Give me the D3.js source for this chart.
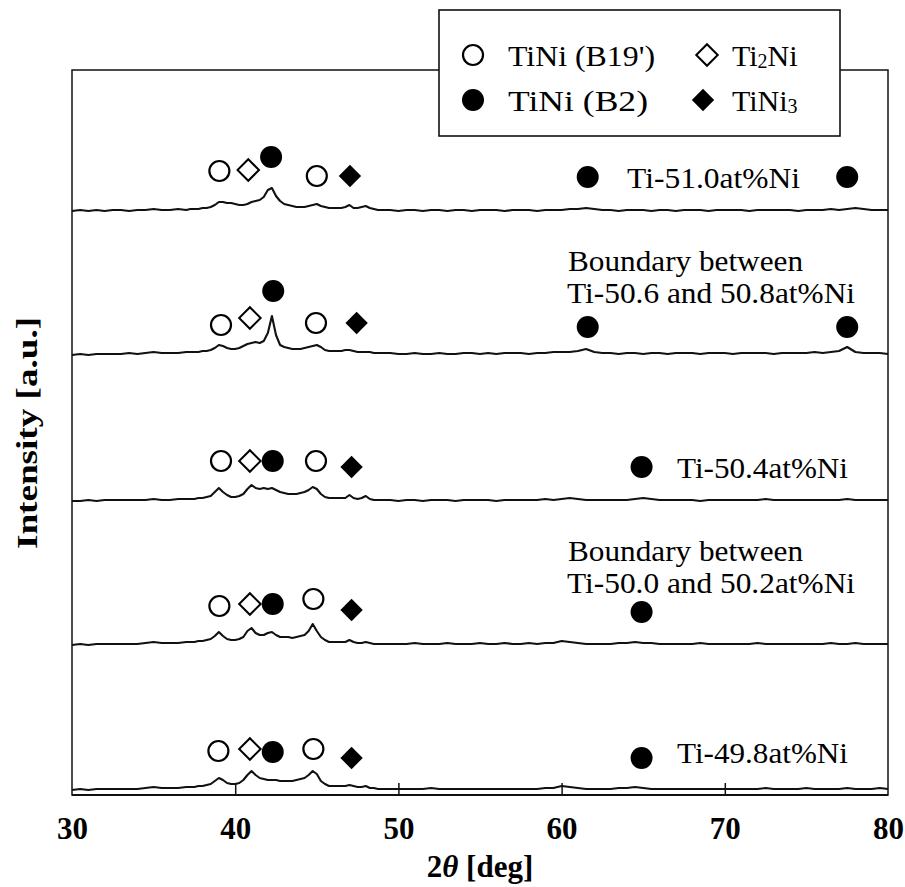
<!DOCTYPE html>
<html><head><meta charset="utf-8">
<script src="https://cdn.jsdelivr.net/npm/d3@7"></script>
<style>body{margin:0;background:#fff}svg{display:block}</style>
</head><body>
<svg id="c" width="905" height="887"></svg>
<script>
// ---- data ----
const xTicks = [30, 40, 50, 60, 70, 80];
const twoTheta = [30,30.5,31,31.5,32,32.5,33,33.5,34,34.5,35,35.5,36,36.5,37,
37.25,37.5,37.75,38,38.25,38.5,38.75,39,39.25,39.5,39.75,40,40.25,40.5,40.75,41,
41.25,41.5,41.75,42,42.25,42.5,42.75,43,43.25,43.5,43.75,44,44.25,44.5,44.75,45,
45.25,45.5,45.75,46,46.25,46.5,46.75,47,47.25,47.5,47.75,48,48.25,48.5,48.75,49,
49.5,50,50.5,51,51.5,52,52.5,53,53.5,54,54.5,55,
55.5,56,56.5,57,57.5,58,58.5,59,59.5,60,60.5,61,
61.5,62,62.5,63,63.5,64,64.5,65,65.5,66,66.5,67,
67.5,68,68.5,69,69.5,70,70.5,71,71.5,72,72.5,73,
73.5,74,74.5,75,75.5,76,76.5,77,77.5,78,78.5,79,79.5,80];

const sampleNames = ["Ti-51.0at%Ni", "Boundary 50.6/50.8", "Ti-50.4at%Ni", "Boundary 50.0/50.2", "Ti-49.8at%Ni"];
const offsets = [584, 440, 294, 150, 5];

const int510 = [0,1,0,1,0,1,1,0,1,1,2,1,1,2,1,
 2,2,2,3, 3,4,6,9, 9,8,8,7, 6,6,7,9, 10,11,14,21, 23,15,10,7, 6,5,4,4, 4,5,6,7, 5,4,3,3, 3,3,4,6, 3,3,4,5, 3,2,1,1,
 1,0,1,1,0,1,1,0,1,1,0,1,
 1,1,0,1,1,1,0,1,1,1,2,2,
 3,2,1,1,0,1,1,1,0,1,1,0,
 1,1,1,0,1,1,1,1,0,1,1,1,
 1,1,0,1,1,1,2,1,2,3,2,1,1,1];
const int5068 = [0,1,0,1,1,1,1,2,1,2,3,2,2,2,3,
 3,3,3,4, 4,5,7,10, 9,7,6,6, 7,9,11,12, 13,12,14,22, 39,20,10,8, 7,6,6,6, 7,8,9,10, 8,5,4,4, 4,4,5,5, 4,3,3,3, 3,2,2,2,
 2,1,1,2,1,1,2,1,1,2,2,1,
 2,1,2,2,2,1,2,2,3,3,3,4,
 6,3,2,2,1,2,2,1,2,2,1,2,
 2,2,1,2,2,2,1,2,2,2,2,1,
 2,2,2,2,3,2,3,4,8,3,2,2,2,1];
const int504 = [0,0,1,0,1,1,1,1,1,1,2,1,1,2,2,
 2,2,3,3, 4,5,9,13, 9,6,4,4, 5,7,12,16, 13,12,13,12, 13,11,9,8, 7,7,7,8, 9,11,14,12, 7,4,3,3, 3,3,3,6, 3,2,3,5, 2,1,1,1,
 1,0,1,1,0,1,1,1,0,1,1,1,
 1,0,1,1,1,1,1,2,1,2,3,2,
 1,1,1,1,1,1,2,3,2,1,1,1,
 1,1,0,1,1,1,1,1,1,1,2,1,
 1,1,1,1,1,1,1,1,2,1,1,1,1,1];
const int5002 = [0,1,0,1,1,1,1,1,1,2,3,2,2,2,3,
 3,3,4,4, 5,6,9,13, 9,6,5,5, 6,8,14,17, 12,10,10,12, 13,10,8,8, 8,7,8,9, 10,14,21,14, 8,5,3,3, 3,3,3,5, 3,2,2,3, 2,1,1,1,
 1,1,1,2,1,1,1,2,1,1,1,2,
 1,1,2,1,1,2,1,2,2,4,3,2,
 1,1,1,1,2,2,3,2,2,1,1,1,
 1,1,2,1,1,1,1,1,1,2,1,1,
 1,1,1,1,1,1,2,1,1,2,1,1,1,1];
const int498 = [0,1,0,1,1,1,1,1,1,2,3,2,2,2,3,
 3,3,4,4, 5,6,9,12, 10,7,6,6, 7,10,15,19, 15,12,11,10, 10,10,9,9, 9,9,10,11, 12,15,19,16, 9,6,4,4, 4,4,4,5, 4,3,3,4, 2,2,1,1,
 1,1,1,1,1,2,1,1,1,1,1,1,
 1,1,1,1,1,1,1,2,2,4,3,2,
 1,1,1,1,2,2,3,2,1,1,1,1,
 1,1,1,1,1,1,1,1,1,1,2,1,
 1,1,1,2,1,1,1,1,2,1,1,1,2,1];
const intensities = [int510, int5068, int504, int5002, int498];

// phase markers: [phase, 2theta, intensity(a.u., absolute)]
const phases = ["TiNi (B19')", "Ti2Ni", "TiNi (B2)", "TiNi3"];
const mark510  = [["B19",39.03,624],["Ti2Ni",40.8,625],["B2",42.2,638],["B19",45.0,619],["TiNi3",47.03,619],["B2",61.6,618],["B2",77.5,618]];
const mark5068 = [["B19",39.13,470],["Ti2Ni",40.9,477],["B2",42.33,504],["B19",44.95,472],["TiNi3",47.44,472],["B2",61.6,468],["B2",77.5,468]];
const mark504  = [["B19",39.13,334],["Ti2Ni",40.9,334],["B2",42.3,334],["B19",44.95,334],["TiNi3",47.13,328],["B2",64.9,328]];
const mark5002 = [["B19",39.03,189],["Ti2Ni",40.9,191],["B2",42.3,191],["B19",44.79,196],["TiNi3",47.13,185],["B2",64.9,183]];
const mark498  = [["B19",38.97,44],["Ti2Ni",40.9,46],["B2",42.3,43],["B19",44.79,46],["TiNi3",47.13,37],["B2",64.9,37]];
const markers = [mark510, mark5068, mark504, mark5002, mark498];

// ---- drawing ----
const svg = d3.select("#c");
const font = "'Liberation Serif','Times New Roman',serif";
const L = 72, R = 888, T = 70, B = 795;
const x = d3.scaleLinear().domain([30, 80]).range([L, R]);
const y = d3.scaleLinear().domain([0, 725]).range([B, T]);

// frame
svg.append("rect").attr("x", L).attr("y", T).attr("width", R - L).attr("height", B - T)
  .attr("fill", "none").attr("stroke", "#111").attr("stroke-width", 1.5);
svg.append("line").attr("x1", L).attr("x2", R).attr("y1", B).attr("y2", B)
  .attr("stroke", "#111").attr("stroke-width", 2.2);

// x axis (ticks inward)
const xAxis = d3.axisBottom(x).tickValues(xTicks).tickSize(-12).tickFormat(d3.format("d"));
const gx = svg.append("g").attr("transform", `translate(0,${B})`).call(xAxis);
gx.select(".domain").remove();
gx.selectAll(".tick line").attr("stroke", "#111").attr("stroke-width", 1.5)
  .filter(d => d === 30 || d === 80).remove();
gx.selectAll(".tick text").attr("font-family", font).attr("font-weight", "bold")
  .attr("font-size", 31).attr("fill", "#000").attr("y", 22).attr("dy", "0.71em");

// axis titles
const xt = svg.append("text").attr("x", (L + R) / 2).attr("y", 866).attr("text-anchor", "middle")
  .attr("dominant-baseline", "central").attr("font-family", font).attr("font-size", 31)
  .attr("font-weight", "bold").attr("fill", "#000");
xt.append("tspan").text("2");
xt.append("tspan").attr("font-style", "italic").text("θ");
xt.append("tspan").text(" [deg]");

svg.append("text").attr("transform", "translate(26,433) rotate(-90)").attr("text-anchor", "middle")
  .attr("dominant-baseline", "central").attr("font-family", font).attr("font-size", 30)
  .attr("font-weight", "bold").attr("fill", "#000").attr("textLength", 232)
  .attr("lengthAdjust", "spacingAndGlyphs").text("Intensity [a.u.]");

// traces
const line = d3.line().x((d, i) => x(twoTheta[i])).y(d => y(d)).curve(d3.curveLinear);
intensities.forEach((arr, k) => {
  svg.append("path").datum(arr.map(v => v + offsets[k]))
    .attr("d", line).attr("fill", "none").attr("stroke", "#111")
    .attr("stroke-width", 2.1).attr("stroke-linejoin", "round");
});

// marker drawing helper
function drawMarker(g, type, cx, cy) {
  if (type === "B19" || type === "B2") {
    g.append("circle").attr("cx", cx).attr("cy", cy).attr("r", type === "B19" ? 10 : 11)
      .attr("fill", type === "B19" ? "#fff" : "#000").attr("stroke", "#000")
      .attr("stroke-width", type === "B19" ? 2.2 : 0);
  } else {
    const open = type === "Ti2Ni";
    g.append("path").attr("d", d3.symbol(d3.symbolSquare, open ? 230 : 250)())
      .attr("transform", `translate(${cx},${cy}) rotate(45)`)
      .attr("fill", open ? "#fff" : "#000").attr("stroke", "#000").attr("stroke-width", open ? 2 : 0);
  }
}
const gm = svg.append("g");
markers.forEach(list => list.forEach(([p, tt, v]) => drawMarker(gm, p, x(tt), y(v))));

// sample labels
function label(txt, px, py, len) {
  svg.append("text").attr("x", px).attr("y", py).attr("dominant-baseline", "central")
    .attr("font-family", font).attr("font-size", 30).attr("fill", "#000")
    .attr("textLength", len).attr("lengthAdjust", "spacingAndGlyphs").text(txt);
}
label("Ti-51.0at%Ni", 627, 177, 173);
label("Boundary between", 568, 260, 235);
label("Ti-50.6 and 50.8at%Ni", 567, 292, 288);
label("Ti-50.4at%Ni", 677, 467, 171);
label("Boundary between", 568, 550, 235);
label("Ti-50.0 and 50.2at%Ni", 567, 582, 288);
label("Ti-49.8at%Ni", 677, 752, 171);

// legend
const lg = svg.append("g");
lg.append("rect").attr("x", 439).attr("y", 10).attr("width", 401).attr("height", 126)
  .attr("fill", "#fff").attr("stroke", "#111").attr("stroke-width", 1.6);
const legendItems = [["B19", 473, 55, 508, 147], ["Ti2Ni", 707, 55, 732, 68], ["B2", 473, 100, 508, 140], ["TiNi3", 703, 100, 732, 66]];
legendItems.forEach(([p, mx, my, tx, len]) => {
  drawMarker(lg, p, mx, my);
  const t = lg.append("text").attr("x", tx).attr("y", my).attr("dominant-baseline", "central")
    .attr("font-family", font).attr("font-size", 30).attr("fill", "#000");
  const name = phases[["B19", "Ti2Ni", "B2", "TiNi3"].indexOf(p)];
  if (p === "Ti2Ni") {
    t.append("tspan").text("Ti");
    t.append("tspan").attr("font-size", 20).attr("dy", 6).text("2");
    t.append("tspan").attr("dy", -6).text("Ni");
  } else if (p === "TiNi3") {
    t.append("tspan").text("TiNi");
    t.append("tspan").attr("font-size", 20).attr("dy", 6).text("3");
  } else {
    t.attr("textLength", len).attr("lengthAdjust", "spacingAndGlyphs").text(name);
  }
});
</script>
</body></html>
